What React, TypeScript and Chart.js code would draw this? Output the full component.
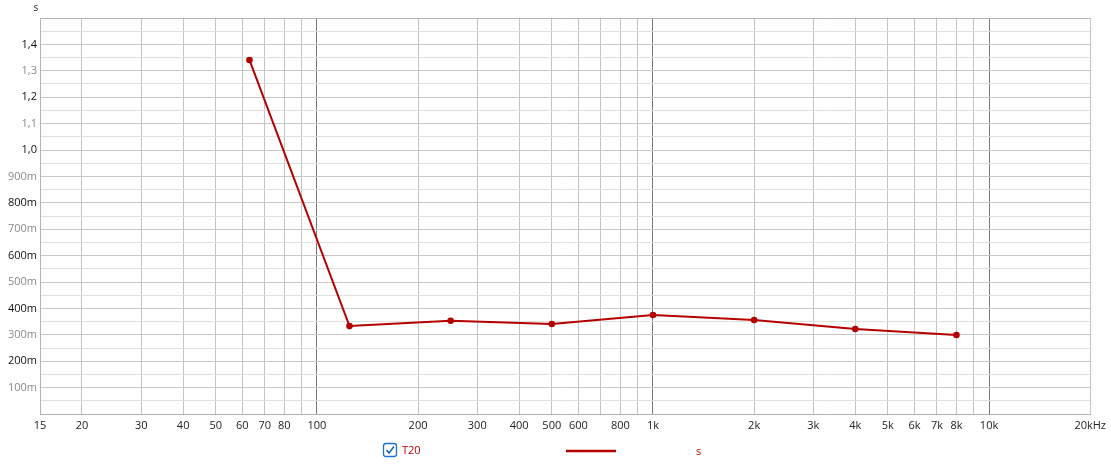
import React, { useEffect, useRef } from "react";
import { Chart, registerables } from "chart.js";

Chart.register(...registerables);

const frequencies = [63, 125, 250, 500, 1000, 2000, 4000, 8000];
const t20Values = [1.341, 0.333, 0.353, 0.341, 0.375, 0.356, 0.322, 0.299];

const xTickValues = [15, 20, 30, 40, 50, 60, 70, 80, 90, 100, 200, 300, 400, 500, 600, 700, 800, 900, 1000, 2000, 3000, 4000, 5000, 6000, 7000, 8000, 9000, 10000, 20000];
const xTickLabels = ["15", "20", "30", "40", "50", "60", "70", "80", "", "100", "200", "300", "400", "500", "600", "", "800", "", "1k", "2k", "3k", "4k", "5k", "6k", "7k", "8k", "", "10k", "20kHz"];
const xDecades = [100, 1000, 10000];

const yTickValues = [0, 0.05, 0.1, 0.15, 0.2, 0.25, 0.3, 0.35, 0.4, 0.45, 0.5, 0.55, 0.6, 0.65, 0.7, 0.75, 0.8, 0.85, 0.9, 0.95, 1.0, 1.05, 1.1, 1.15, 1.2, 1.25, 1.3, 1.35, 1.4, 1.45, 1.5];
const yTickLabels = ["", "", "100m", "", "200m", "", "300m", "", "400m", "", "500m", "", "600m", "", "700m", "", "800m", "", "900m", "", "1,0", "", "1,1", "", "1,2", "", "1,3", "", "1,4", "", ""];

const FONT = "'Open Sans', 'Noto Sans', sans-serif";
const RED = "#b40000";

const extrasPlugin = {
  id: "extras",
  afterDraw(chart: any) {
    const ctx = chart.ctx;
    ctx.save();
    ctx.fillStyle = "#222";
    ctx.font = `10px ${FONT}`;
    ctx.textAlign = "center";
    ctx.textBaseline = "middle";
    ctx.fillText("s", 36, 8);
    ctx.strokeStyle = "#1a73d0";
    ctx.lineWidth = 1.3;
    const bx = 383.5, by = 443.5, bs = 13, r = 2.5;
    ctx.beginPath();
    ctx.moveTo(bx + r, by);
    ctx.lineTo(bx + bs - r, by);
    ctx.quadraticCurveTo(bx + bs, by, bx + bs, by + r);
    ctx.lineTo(bx + bs, by + bs - r);
    ctx.quadraticCurveTo(bx + bs, by + bs, bx + bs - r, by + bs);
    ctx.lineTo(bx + r, by + bs);
    ctx.quadraticCurveTo(bx, by + bs, bx, by + bs - r);
    ctx.lineTo(bx, by + r);
    ctx.quadraticCurveTo(bx, by, bx + r, by);
    ctx.closePath();
    ctx.stroke();
    ctx.strokeStyle = "#1a5fb0";
    ctx.lineWidth = 1.5;
    ctx.beginPath();
    ctx.moveTo(bx + 3, by + 6.5);
    ctx.lineTo(bx + 5.5, by + 9.5);
    ctx.lineTo(bx + 10.5, by + 3);
    ctx.stroke();
    ctx.fillStyle = "#c00000";
    ctx.font = `11px ${FONT}`;
    ctx.textAlign = "left";
    ctx.textBaseline = "middle";
    ctx.fillText("T20", 402, 451);
    ctx.fillText("s", 696, 452);
    ctx.strokeStyle = RED;
    ctx.lineWidth = 2.5;
    ctx.beginPath();
    ctx.moveTo(566, 451);
    ctx.lineTo(616, 451);
    ctx.stroke();
    ctx.restore();
  },
};

export default function App() {
  const canvasRef = useRef<HTMLCanvasElement | null>(null);

  useEffect(() => {
    if (!canvasRef.current) return;
    const chart = new Chart(canvasRef.current, {
      type: "line",
      data: {
        datasets: [
          {
            label: "T20",
            data: frequencies.map((f, i) => ({ x: f, y: t20Values[i] })),
            borderColor: RED,
            backgroundColor: RED,
            borderWidth: 2,
            pointRadius: 2.3,
            pointBackgroundColor: RED,
            pointBorderColor: RED,
            tension: 0,
          },
        ],
      },
      plugins: [extrasPlugin],
      options: {
        animation: false,
        responsive: false,
        events: [],
        layout: { padding: { top: 18, right: 19, bottom: 30, left: 0 } },
        plugins: { legend: { display: false }, tooltip: { enabled: false } },
        scales: {
          x: {
            type: "logarithmic",
            min: 15,
            max: 20000,
            afterBuildTicks(scale: any) {
              scale.ticks = xTickValues.map((v) => ({ value: v }));
            },
            afterFit(scale: any) {
              scale.height = 22;
            },
            ticks: {
              autoSkip: false,
              maxRotation: 0,
              minRotation: 0,
              padding: 5,
              color: "#222",
              font: { family: FONT, size: 11 },
              callback(value: any) {
                const i = xTickValues.indexOf(Number(value));
                return i >= 0 ? xTickLabels[i] : "";
              },
            },
            grid: {
              drawTicks: false,
              color(ctx: any) {
                const v = ctx.tick ? ctx.tick.value : 0;
                return xDecades.includes(v) ? "#7a7a7a" : "#c4c4c4";
              },
              lineWidth: 1,
            },
            border: { color: "#b4b4b4" },
          },
          y: {
            type: "linear",
            min: 0,
            max: 1.5,
            afterBuildTicks(scale: any) {
              scale.ticks = yTickValues.map((v) => ({ value: v }));
            },
            afterFit(scale: any) {
              scale.width = 40;
            },
            ticks: {
              autoSkip: false,
              padding: 3,
              font: { family: FONT, size: 11 },
              color(ctx: any) {
                const v = Math.round((ctx.tick ? ctx.tick.value : 0) * 10);
                return v % 2 === 0 ? "#111" : "#8a8a8a";
              },
              callback(value: any) {
                const i = yTickValues.findIndex((t) => Math.abs(t - Number(value)) < 1e-6);
                return i >= 0 ? yTickLabels[i] : "";
              },
            },
            grid: {
              drawTicks: false,
              color(ctx: any) {
                const v = Math.round((ctx.tick ? ctx.tick.value : 0) * 20);
                if (v === 30) return "#b4b4b4";
                return v % 2 === 0 ? "#c8c8c8" : "#e0e0e0";
              },
              lineWidth: 1,
            },
            border: { color: "#b4b4b4" },
          },
        },
      },
    } as any);
    return () => chart.destroy();
  }, []);

  return (
    <div style={{ position: "absolute", left: 0, top: 0, width: 1111, height: 466, background: "#fff" }}>
      <canvas ref={canvasRef} width={1111} height={466} style={{ display: "block" }} />
    </div>
  );
}
